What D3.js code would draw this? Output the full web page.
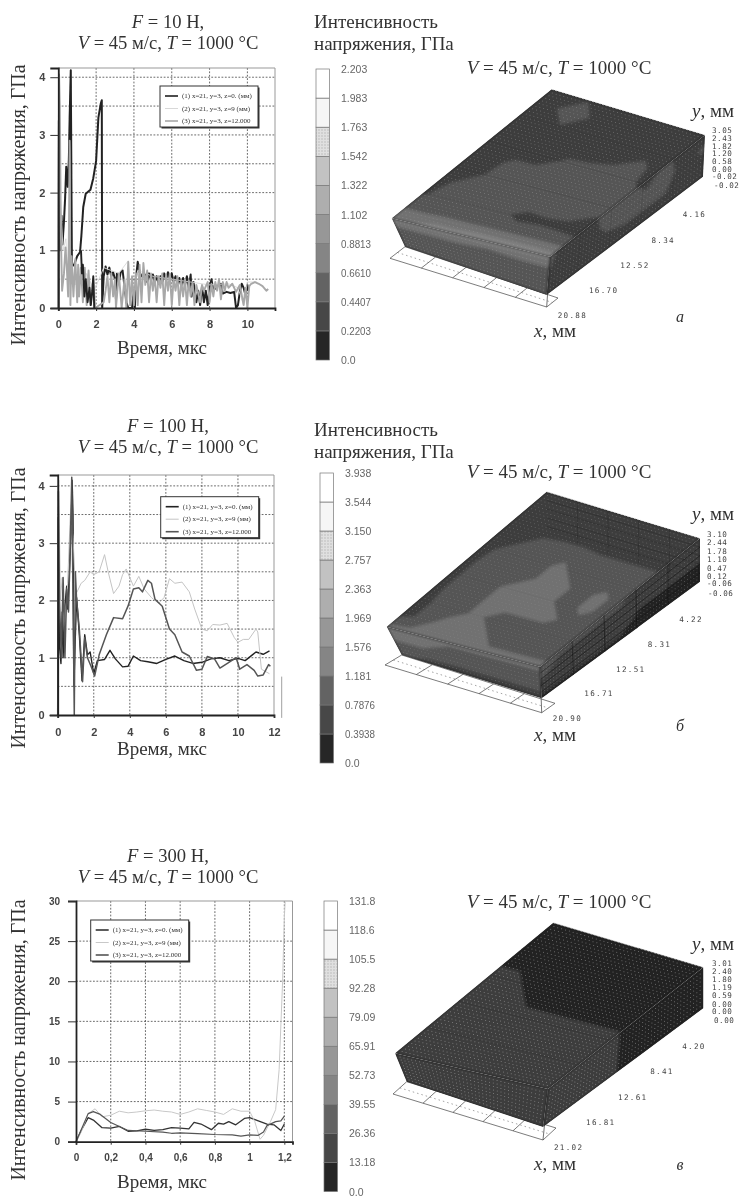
<!DOCTYPE html>
<html>
<head>
<meta charset="utf-8">
<script src="https://cdn.jsdelivr.net/npm/d3@7"></script>
<style>
  body { margin: 0; background: #fff; }
  text { font-family: "Liberation Serif", serif; fill: #333; }
  .tick text { font-family: "Liberation Sans", sans-serif; font-weight: bold; fill: #444; }
</style>
</head>
<body>
<div id="body"></div>
<script>
// line charts, [time, stress]
const a1Main = [[0,0],[.03,3.25],[.06,2.6],[.1,1.0],[.17,1.6],[.22,1.1],[.3,1.5],[.36,1.9],[.42,2.45],[.5,2.1],[.56,2.6],[.6,3.3],[.66,4.12],[.68,3],[.72,.72],[.85,.76],[1,.9],[1.15,.97],[1.22,1.25],[1.32,1.75],[1.45,1.98],[1.7,2.05],[1.85,2.25],[2,2.55],[2.12,3.3],[2.25,3.55],[2.3,3.6],[2.32,0],[2.4,.55],[2.5,.72],[2.6,.58],[2.7,.7],[2.8,.55],[2.9,.62],[3,.5],[3.05,.15],[3.1,.6],[3.2,.45],[3.3,.62],[3.4,.65],[3.6,.1],[3.7,0],[3.9,0],[4,.35],[4.05,0],[4.1,.5],[4.2,.8],[4.3,.62],[4.4,.55],[4.6,.58],[4.7,.45],[4.8,.6],[4.9,.48],[5,.58],[5.1,.45],[5.2,.55],[5.3,.42],[5.4,.55],[5.5,.45],[5.6,.6],[5.7,.48],[5.8,.62],[5.9,.5],[6,.6],[6.1,.45],[6.2,.55],[6.3,.42],[6.4,.52],[6.5,.38],[6.6,.52],[6.7,.4],[6.8,.55],[6.9,.35],[7,.58],[7.05,.2],[7.15,.45],[7.3,.1],[7.4,.3],[7.5,.05],[7.6,.38],[7.7,.1],[7.8,.3],[7.9,.05],[8,.35],[8.1,.5],[8.2,.3],[8.4,.38],[8.6,.42],[8.7,.25],[8.9,.28],[9.1,.26],[9.3,.28],[9.4,0],[9.5,.05],[9.6,.28],[9.7,.42],[9.8,.35],[9.9,.22],[10,.4],[10.05,.3]];
const a1Early = [[1.2,1],[1.25,.6],[1.3,.75],[1.38,.2],[1.45,.5],[1.55,.1],[1.65,.35],[1.72,.05],[1.8,.3],[1.85,.55],[1.9,0]];
const a2 = [[0,0],[.02,3.9],[.1,2],[.25,1],[.4,1.2],[.55,.4],[.7,.7],[.9,.4],[1.1,.7],[1.3,.3],[1.5,.6],[1.9,.3],[2.4,.7],[2.8,.65],[3.2,.6],[3.7,.82],[3.8,.1],[4.2,.65],[5,.55],[6,.5],[7,.45],[8,.4],[9,.42],[9.5,.35],[9.8,.05],[10,.45],[10.5,.45]];
const a3 = [[0,0],[.04,4.05],[.08,3.5],[.14,1.2],[.2,.3],[.3,.6],[.38,1.05],[.45,.7],[.52,.2],[.56,1.3],[.6,2.9],[.64,.05],[.7,.9],[.8,.2],[.9,.85],[1,.1],[1.05,.75],[1.1,.2],[1.2,.7],[1.3,.1],[1.4,.7],[1.5,.05],[1.6,.65],[1.7,.05],[1.85,.5],[1.95,0],[2.4,.1],[2.5,.3],[2.6,.55],[2.7,.1],[2.8,.6],[2.9,.2],[3,.5],[3.05,0],[3.2,.6],[3.35,0],[3.5,.5],[3.6,0],[3.7,.8],[3.8,.05],[3.9,.55],[4,.05],[4.1,.6],[4.2,.05],[4.3,.75],[4.4,.1],[4.5,.78],[4.6,.4],[4.7,.65],[4.8,.1],[4.9,.6],[5,.3],[5.1,.55],[5.2,.1],[5.3,.55],[5.4,.35],[5.5,.6],[5.6,.05],[5.7,.58],[5.8,.3],[5.9,.6],[6,.05],[6.1,.5],[6.2,.3],[6.3,.55],[6.4,.05],[6.5,.48],[6.6,.2],[6.7,.5],[6.8,.05],[6.9,.48],[7,.2],[7.1,.45],[7.2,.05],[7.3,.4],[7.5,.1],[7.6,.4],[7.7,.3],[7.9,.45],[8,.1],[8.1,.42],[8.2,.2],[8.3,.45],[8.4,.3],[8.5,.5],[8.6,.15],[8.7,.45],[8.8,.3],[8.9,.45],[9,.35],[9.2,.42],[9.4,.28],[9.6,.4],[9.8,.05],[9.9,.35],[10,0],[10.1,.38],[10.2,.42],[10.4,.45],[10.6,.42],[10.8,.38],[11,.3],[11.1,.33]];

const b1 = [[0,0],[.03,3.45],[.1,1.2],[.18,.9],[.25,1.8],[.3,1],[.4,1.9],[.5,2.25],[.55,1.85],[.65,2.5],[.75,3.3],[.8,4.1],[.85,3.5],[.88,1.5],[.9,.5],[.95,1.1],[1.05,2.05],[1.2,1.4],[1.35,.6],[1.5,1.4],[1.65,1.05],[1.8,1.1],[2,.72],[2.2,.95],[2.6,.97],[2.9,1.13],[3.2,.98],[3.6,.84],[3.9,.85],[4.2,1.03],[4.6,.95],[5,.93],[5.5,.9],[6,.97],[6.5,1.03],[7,.95],[7.5,.9],[8,.92],[8.5,.98],[9,1],[9.5,.95],[10,.99],[10.4,.95],[10.8,1.05],[11,1.1],[11.4,1.06],[11.75,1.12]];
const b2 = [[0,0],[.06,4.1],[.15,2],[.25,2.4],[.4,1.5],[.55,2.3],[.7,3.5],[.85,3.1],[1,2.1],[1.3,2.3],[1.5,2.35],[1.8,2.5],[2,2.45],[2.3,2.5],[2.6,2.8],[2.8,2.5],[3.1,2.12],[3.4,2.25],[3.6,2.45],[3.8,2.55],[4,2.4],[4.2,2.25],[4.5,2.42],[4.8,2.2],[5.2,2.05],[5.6,1.95],[5.9,2.05],[6.2,2.38],[6.5,2.3],[6.9,2.32],[7.3,2.15],[7.6,1.85],[8,1.5],[8.3,1.47],[8.6,1.58],[9,1.57],[9.4,1.6],[9.8,1.35],[10,1.27],[10.3,1.32],[10.6,1.32],[11,1.5],[11.1,1.45],[11.3,.8],[11.75,.72]];
const b3 = [[0,0],[.04,3.9],[.1,2],[.2,1],[.3,2.4],[.4,1],[.5,2.2],[.6,1.8],[.7,3],[.78,4.15],[.85,2],[.92,0],[.98,2.5],[1.05,2],[1.2,1.5],[1.38,.58],[1.5,1.35],[1.65,1],[1.85,.85],[2.05,.68],[2.3,1.05],[2.7,1.4],[3.1,1.7],[3.6,1.68],[3.9,1.9],[4.2,2.2],[4.5,2.22],[4.7,2.15],[5,2.35],[5.2,2.3],[5.4,2.02],[5.8,1.9],[6.2,1.5],[6.5,1.4],[6.9,1.1],[7.3,1.03],[7.7,.78],[8,.8],[8.3,1.02],[8.7,.98],[9,.82],[9.5,.92],[9.9,1],[10.1,.8],[10.5,.88],[10.9,.78],[11.1,.68],[11.4,.7],[11.7,.88],[11.8,.85]];

const c1 = [[0,0],[.03,1.4],[.07,3],[.1,2.7],[.15,1.75],[.2,1.7],[.25,1.9],[.3,1.3],[.35,1.35],[.4,1.55],[.45,1.4],[.5,1.5],[.55,1.75],[.6,1.7],[.65,1.6],[.68,2.4],[.72,2.2],[.78,1.5],[.82,2.3],[.85,2.2],[.88,2.5],[.92,2.1],[.97,2.9],[1,3],[1.05,2.6],[1.1,2.2],[1.14,2.1],[1.18,1.4],[1.2,2.2]];
const c2 = [[0,0],[.03,1.2],[.07,3.5],[.11,4.1],[.15,3.1],[.2,3.3],[.25,3.8],[.3,3.6],[.35,3.7],[.4,3.85],[.45,3.95],[.5,3.8],[.55,3.7],[.6,3.4],[.65,3.7],[.7,4.1],[.75,3.9],[.8,3.7],[.85,3.4],[.9,4.1],[.95,3.8],[1,3.8],[1.03,2.5],[1.06,.3],[1.08,.8],[1.12,2.5],[1.15,4],[1.17,9],[1.19,20],[1.2,28],[1.205,30]];
const c3 = [[0,0],[.03,1.5],[.07,3.5],[.1,3.75],[.14,3.4],[.2,2.4],[.25,1.9],[.3,1.4],[.4,1.3],[.5,1.2],[.55,1.05],[.6,1.1],[.7,1],[.8,.9],[.9,.85],[.95,.7],[1,.85],[1.05,.8],[1.08,1.2],[1.1,2],[1.15,2.5],[1.18,2.6],[1.2,3.2]];

const legendRows = ["(1) x=21, y=3, z=0. (мм)", "(2) x=21, y=3, z=9 (мм)", "(3) x=21, y=3, z=12.000"];

// colour bar labels, bottom to top
const barA = ["0.0","0.2203","0.4407","0.6610","0.8813","1.102","1.322","1.542","1.763","1.983","2.203"];
const barB = ["0.0","0.3938","0.7876","1.181","1.576","1.969","2.363","2.757","3.150","3.544","3.938"];
const barC = ["0.0","13.18","26.36","39.55","52.73","65.91","79.09","92.28","105.5","118.6","131.8"];
const barGrays = ["#262626","#474747","#636363","#858585","#979797","#aeaeae","#c2c2c2","#e0e0e0","#f6f6f6","#ffffff"];

// mm labels on the 3d boxes
const xTicksA = ["4.16","8.34","12.52","16.70","20.88"];
const xTicksB = ["4.22","8.31","12.51","16.71","20.90"];
const xTicksC = ["4.20","8.41","12.61","16.81","21.02"];
const yTicksA = ["3.05","2.43","1.82","1.20","0.58","0.00","-0.02"];
const yTicksB = ["3.10","2.44","1.78","1.10","0.47","0.12","-0.06"];
const yTicksC = ["3.01","2.40","1.80","1.19","0.59","0.00","0.00"];

// stress fields on the box faces, estimated from the shading (GPa)
const topA = [
  [.33,.33,.33,.33,.35,.55,.55,.40,.33,.60,1.0],
  [.33,.33,.33,.52,.60,.58,.56,.50,.38,.60,1.05],
  [.33,.33,.33,.38,.55,.56,.56,.52,.40,.60,1.05],
  [.33,.33,.33,.33,.50,.55,.56,.54,.36,.60,1.05],
  [.33,.33,.33,.33,.48,.55,.56,.55,.50,.60,1.05],
  [.33,.40,.33,.33,.33,.50,.55,.55,.55,.60,1.0],
  [.42,.60,.42,.33,.33,.50,.55,.55,.55,.60,1.0],
  [.33,.42,.33,.33,.33,.33,.33,.52,.55,.60,.9],
  [.33,.33,.33,.33,.33,.33,.33,.33,.40,.60,.9]];
const sideA = [
  [.33,.33,.50,.33,.55,.55,.33,.33,.50],
  [.50,.33,.55,.50,.50,.50,.33,.33,.45],
  [.33,.33,.45,.45,.45,.40,.33,.33,.35],
  [.33,.33,.33,.33,.33,.33,.33,.33,.33]];
const frontA = [
  [.95,.95,1.0,.95,.95,.95],
  [.62,.62,.50,.62,.62,.62],
  [.60,.60,.60,.50,.60,.60],
  [.50,.55,.55,.55,.55,.60]];
const topB = [
  [.6,.6,.6,.9,1.0,1.0,1.0,1.0,1.0,1.0,1.3],
  [.6,.6,.6,.9,1.0,1.3,1.3,1.0,1.0,1.0,1.3],
  [.6,.6,.6,.9,1.0,1.0,1.0,1.3,1.0,1.0,1.3],
  [.6,.6,.6,.9,1.0,1.3,1.3,1.3,1.0,1.0,1.3],
  [.6,.6,.6,1.0,1.3,1.3,1.3,1.3,1.0,1.3,1.3],
  [.6,.6,.6,1.0,1.0,1.0,1.3,1.3,1.3,1.3,1.3],
  [.6,.6,.6,.9,1.0,1.0,1.0,1.0,1.0,1.3,1.3],
  [.6,.6,.6,.6,.9,1.0,1.0,1.0,.9,.9,1.3],
  [.6,.6,.6,.6,.6,.6,.6,.6,.6,.6,1.3]];
const sideB = [
  [.6,.6,.6,.6,.9,.9,.9,.9,1.0],
  [.6,.6,.6,.6,.6,.6,.6,.6,.9],
  [.3,.3,.3,.3,.6,.6,.6,.6,.6],
  [.3,.3,.3,.3,.3,.3,.3,.3,.3]];
const frontB = [
  [1.3,1.3,1.3,1.3,1.3,1.6],
  [1.0,1.0,1.0,1.0,1.3,1.3],
  [.9,.9,.9,.9,1.0,1.0],
  [.6,.6,.6,.6,.6,.9]];
const topC = [
  [10,10,10,10,10,10,20,20,20,20,20],
  [10,10,10,10,10,10,20,20,20,20,20],
  [10,10,10,10,10,10,20,20,20,20,20],
  [10,10,10,10,10,10,20,20,20,20,20],
  [10,10,10,10,10,10,20,20,20,20,20],
  [10,10,10,10,10,10,20,20,20,20,20],
  [10,10,10,10,10,20,20,20,20,20,20],
  [10,10,10,10,20,20,20,20,20,20,20],
  [10,10,10,10,20,20,20,20,20,20,20]];
const sideC = [
  [10,10,10,10,10,20,20,20,20],
  [10,10,10,10,10,20,20,20,20],
  [10,10,10,10,10,20,20,20,20]];
const frontC = [
  [20,20,20,20,20,20],
  [20,20,20,20,20,20],
  [20,20,20,20,20,20]];

const W = 740, H = 1196;
const svg = d3.select("#body").append("svg").attr("width", W).attr("height", H);
const defs = svg.append("defs");

// the scan is soft, everything gets a slight blur
defs.append("filter").attr("id", "soft")
  .attr("filterUnits", "userSpaceOnUse")
  .attr("x", 0).attr("y", 0).attr("width", W).attr("height", H)
  .append("feGaussianBlur").attr("stdDeviation", 0.6);
// shading zones on the box melt into each other
defs.append("filter").attr("id", "melt")
  .attr("filterUnits", "userSpaceOnUse")
  .attr("x", 0).attr("y", 0).attr("width", W).attr("height", H)
  .append("feGaussianBlur").attr("stdDeviation", 1.6);
let dots = defs.append("pattern").attr("id", "dots")
  .attr("width", 3).attr("height", 3).attr("patternUnits", "userSpaceOnUse");
dots.append("rect").attr("width", 3).attr("height", 3).attr("fill", "#e0e0e0");
dots.append("circle").attr("cx", 1).attr("cy", 1).attr("r", .8).attr("fill", "#bbb");

const root = svg.append("g").attr("filter", "url(#soft)");

// italic latin symbols in a label
function rich(sel, str) {
  str.split(/\b(F|V|T|x|y)\b/).forEach(function (part, i) {
    sel.append("tspan").style("font-style", i % 2 ? "italic" : "normal").text(part);
  });
  return sel;
}

function label(x, y, str, size, anchor) {
  return rich(root.append("text").attr("x", x).attr("y", y)
    .attr("font-size", size).attr("text-anchor", anchor || "middle"), str);
}

function lineChart(o) {
  let x = d3.scaleLinear().domain(o.xDomain).range([o.left, o.right]);
  let y = d3.scaleLinear().domain(o.yDomain).range([o.bottom, o.top]);
  let g = root.append("g");

  // grid
  g.selectAll("line.gx").data(o.xGrid).enter().append("line")
    .attr("x1", d => x(d)).attr("x2", d => x(d)).attr("y1", o.top).attr("y2", o.bottom)
    .attr("stroke", "#444").attr("stroke-width", .8).attr("stroke-dasharray", "1.8,1.6");
  g.selectAll("line.gy").data(o.yGrid).enter().append("line")
    .attr("x1", o.left).attr("x2", o.right).attr("y1", d => y(d)).attr("y2", d => y(d))
    .attr("stroke", "#444").attr("stroke-width", .8).attr("stroke-dasharray", "1.8,1.6");

  // frame, top and right are grey
  g.append("path").attr("d", `M${o.left},${o.top}H${o.right}V${o.bottom}`)
    .attr("fill", "none").attr("stroke", "#999").attr("stroke-width", 1);

  let line = d3.line().x(d => x(d[0])).y(d => y(d[1]));
  o.series.forEach(function (s) {
    g.append("path").datum(s.values).attr("d", line).attr("fill", "none")
      .attr("stroke", s.color).attr("stroke-width", s.width).attr("stroke-linejoin", "round");
  });

  // axes
  let ax = g.append("g").attr("transform", `translate(0,${o.bottom})`)
    .call(d3.axisBottom(x).tickValues(o.xTicks).tickSize(3).tickPadding(o.xPad).tickFormat(o.xFormat));
  let ay = g.append("g").attr("transform", `translate(${o.left},0)`)
    .call(d3.axisLeft(y).tickValues(o.yTicks).tickSize(8).tickPadding(o.yPad).tickFormat(d3.format("d")));
  [ax, ay].forEach(function (a) {
    a.selectAll("text").attr("font-size", o.tickSize);
    a.selectAll("line").attr("stroke", "#333");
    a.select(".domain").attr("stroke", "#222").attr("stroke-width", 1.8);
  });

  // legend
  let lg = g.append("g").attr("transform", `translate(${o.legend[0]},${o.legend[1]})`);
  lg.append("rect").attr("x", 1.5).attr("y", 1.5).attr("width", 98).attr("height", 41).attr("fill", "#333");
  lg.append("rect").attr("width", 98).attr("height", 41).attr("fill", "#fff")
    .attr("stroke", "#333").attr("stroke-width", 1);
  let rowY = d3.scaleLinear().domain([0, 2]).range([10, 35]);
  legendRows.forEach(function (t, i) {
    lg.append("line").attr("x1", 5).attr("x2", 18).attr("y1", rowY(i)).attr("y2", rowY(i))
      .attr("stroke", o.series[i].color).attr("stroke-width", i == 1 ? 1 : 1.6);
    lg.append("text").attr("x", 22).attr("y", rowY(i) + 2).attr("font-size", 7).text(t);
  });

  // titles
  label(o.titleX, o.titleY, o.title[0], 18.6);
  label(o.titleX, o.titleY + 21, o.title[1], 18.6);
  label(o.xLabelX, o.xLabelY, "Время, мкс", 19);
  label(0, 0, "Интенсивность напряжения, ГПа", 19.9)
    .attr("x", null).attr("y", null)
    .attr("transform", `translate(${o.yLabelX},${o.yLabelY}) rotate(-90)`);
}

function colorBar(o) {
  let y = d3.scaleLinear().domain([0, 10]).range([o.bottom, o.top]);
  let g = root.append("g");
  barGrays.forEach(function (c, i) {
    g.append("rect").attr("x", o.x).attr("width", 13.5)
      .attr("y", y(i + 1)).attr("height", y(i) - y(i + 1))
      .attr("fill", i == 7 ? "url(#dots)" : c)
      .attr("stroke", "#777").attr("stroke-width", .7);
  });
  o.labels.forEach(function (t, i) {
    g.append("text").attr("x", o.x + 25).attr("y", y(i) + 4)
      .attr("font-size", 10.5).style("font-family", "Liberation Sans")
      .attr("textLength", t.length > 5 ? 30 : null)
      .attr("lengthAdjust", "spacingAndGlyphs")
      .style("fill", "#666").text(t);
  });
}

// corners: p00, p10, p01, p11
function bilinear(c, u, v) {
  return [0, 1].map(k =>
    (1 - u) * (1 - v) * c[0][k] + u * (1 - v) * c[1][k] + (1 - u) * v * c[2][k] + u * v * c[3][k]);
}

function dist(a, b) {
  return Math.hypot(a[0] - b[0], a[1] - b[1]);
}

let faceId = 0;

function face(g, corners, grid, thresholds, dotColor) {
  let n = grid[0].length, m = grid.length;
  let clamp = t => Math.max(0, Math.min(1, t));
  let path = d3.geoPath(d3.geoTransform({
    point: function (px, py) {
      let p = bilinear(corners, clamp((px - .5) / (n - 1)), clamp((py - .5) / (m - 1)));
      this.stream.point(p[0], p[1]);
    }
  }));
  let color = d3.scaleThreshold().domain(thresholds.slice(1)).range(barGrays);
  let cs = d3.contours().size([n, m]).thresholds(thresholds).smooth(true)(grid.flat());

  // outline in drawing order, the blur must not leak out of the face
  let id = "face" + (faceId++);
  let outline = d3.line()([corners[0], corners[1], corners[3], corners[2]]) + "Z";
  defs.append("clipPath").attr("id", id).append("path").attr("d", outline);
  let clipped = g.append("g").attr("clip-path", `url(#${id})`);
  clipped.append("path").attr("d", outline).attr("fill", d3.color(barGrays[0]).darker(.45));
  clipped.append("g").attr("filter", "url(#melt)")
    .selectAll(null).data(cs).enter().append("path").attr("d", path)
    .attr("fill", d => d3.color(color(d.value + 1e-6)).darker(.45))
    .attr("stroke", "none");

  // calculation mesh shows up as fine dots, about 4 px apart
  let nu = Math.round(dist(corners[0], corners[1]) / 4), nv = Math.round(dist(corners[0], corners[2]) / 4);
  d3.range(1, nu).forEach(function (i) {
    d3.range(1, nv).forEach(function (j) {
      let p = bilinear(corners, i / nu, j / nv);
      g.append("circle").attr("cx", p[0]).attr("cy", p[1]).attr("r", .5)
        .attr("fill", dotColor).attr("opacity", .6);
    });
  });
}

function box(o) {
  let c = o.c;
  let g = root.append("g");

  // white base grid
  let base = [c.L2, c.F4, c.F3, c.L3];
  g.append("path").attr("d", d3.line()(base) + "Z").attr("fill", "#fff")
    .attr("stroke", "#444").attr("stroke-width", .7);
  d3.range(1, 5).forEach(function (i) {
    let a = bilinear([c.L2, c.F4, c.L3, c.F3], i / 5, 0), b = bilinear([c.L2, c.F4, c.L3, c.F3], i / 5, 1);
    g.append("line").attr("x1", a[0]).attr("y1", a[1]).attr("x2", b[0]).attr("y2", b[1])
      .attr("stroke", "#444").attr("stroke-width", .7);
  });
  let m1 = bilinear([c.L2, c.F4, c.L3, c.F3], 0, .5), m2 = bilinear([c.L2, c.F4, c.L3, c.F3], 1, .5);
  g.append("line").attr("x1", m1[0]).attr("y1", m1[1]).attr("x2", m2[0]).attr("y2", m2[1])
    .attr("stroke", "#666").attr("stroke-width", .6).attr("stroke-dasharray", "1.5,3");

  let thr = o.labels.map(Number);
  face(g, [c.F, c.L, c.F2, c.L2], o.front, thr, o.dot);
  face(g, [c.R, c.F, c.R2, c.F2], o.side, thr, o.dot);
  face(g, [c.R, c.F, c.B, c.L], o.top, thr, o.dot);

  // construction lines drawn over the faces
  d3.range(1, 5).forEach(function (i) {
    let a = bilinear([c.R, c.F, c.B, c.L], i / 5, 0), b = bilinear([c.R, c.F, c.B, c.L], i / 5, 1);
    let s = bilinear([c.R, c.F, c.R2, c.F2], i / 5, 1);
    g.append("line").attr("x1", a[0]).attr("y1", a[1]).attr("x2", b[0]).attr("y2", b[1])
      .attr("stroke", "#222").attr("stroke-width", .5).attr("opacity", o.meshOpacity);
    g.append("line").attr("x1", a[0]).attr("y1", a[1]).attr("x2", s[0]).attr("y2", s[1])
      .attr("stroke", "#111").attr("stroke-width", .7).attr("opacity", o.sideOpacity);
    let e = bilinear([c.R, c.F, c.R2, c.F2], 0, i / 5), f = bilinear([c.R, c.F, c.R2, c.F2], 1, i / 5);
    g.append("line").attr("x1", e[0]).attr("y1", e[1]).attr("x2", f[0]).attr("y2", f[1])
      .attr("stroke", "#111").attr("stroke-width", .7).attr("opacity", o.sideOpacity);
  });

  // back wall grid, only shows on the 100 N box
  if (o.wall) {
    let h = c.R2[1] - c.R[1];
    let wall = [c.B, c.R, [c.B[0], c.B[1] + h], [c.R[0], c.R[1] + h]];
    d3.range(1, 5).forEach(function (i) {
      let a = bilinear(wall, i / 5, 0), b = bilinear(wall, i / 5, 1);
      let e = bilinear(wall, 0, i / 5), f = bilinear(wall, 1, i / 5);
      [[a, b], [e, f]].forEach(function (l) {
        g.append("line").attr("x1", l[0][0]).attr("y1", l[0][1]).attr("x2", l[1][0]).attr("y2", l[1][1])
          .attr("stroke", "#111").attr("stroke-width", .6).attr("opacity", o.wall);
      });
    });
  }

  g.append("path").attr("d", d3.line()([c.B, c.R])).attr("stroke", "#ddd")
    .attr("stroke-width", .8).attr("stroke-dasharray", "2,1.5").attr("fill", "none");
  g.append("line").attr("x1", c.F[0]).attr("y1", c.F[1]).attr("x2", c.F3[0]).attr("y2", c.F3[1])
    .attr("stroke", "#333").attr("stroke-width", .7);

  // mm scales
  let tickText = function (x, y, t, spacing) {
    g.append("text").attr("x", x).attr("y", y).attr("font-size", 7.6)
      .attr("letter-spacing", spacing).style("font-family", "DejaVu Sans Mono").style("fill", "#444").text(t);
  };
  let xs = d3.scaleLinear().domain([0, 5]).range([c.R2, c.F2]);
  o.xTicks.forEach(function (t, i) {
    let p = xs(i + 1);
    tickText(p[0] + 11, p[1] + 17 + 1.5 * i, t, 1.3);
  });
  let ys = d3.scaleLinear().domain([0, 5]).range(o.yRange);
  o.yTicks.forEach(function (t, i) {
    if (i < 6) tickText(o.yX, ys(i), t, .5);
    if (i == 5) tickText(o.yX, ys(i) + 7, o.yTicks[6], .5);
    if (i == 6) tickText(o.floorX, o.yFloor, t, .5);
  });

  label(559, o.titleY, "V = 45 м/с, T = 1000 °C", 19);
  label(713, o.yLab, "y, мм", 19);
  label(555, o.xLab, "x, мм", 19);
  label(680, o.xLab - o.letterUp, o.letter, 16).selectAll("tspan").style("font-style", "italic");
}

// left column
lineChart({
  left: 58.3, right: 275, top: 68, bottom: 308,
  xDomain: [0, 11.46], yDomain: [0, 4.16],
  xGrid: [2, 4, 6, 8, 10], yGrid: [.5, 1, 1.5, 2, 2.5, 3, 3.5, 4],
  xTicks: [0, 2, 4, 6, 8, 10], yTicks: [0, 1, 2, 3, 4],
  xFormat: d3.format("d"), xPad: 9, yPad: 5, tickSize: 11,
  series: [
    { values: a1Main, color: "#222", width: 2 },
    { values: a2, color: "#d8d8d8", width: .9 },
    { values: a3, color: "#a8a8a8", width: 1.9 },
    { values: a1Early, color: "#222", width: 1.9 }],
  legend: [160, 86],
  title: ["F = 10 Н,", "V = 45 м/с, T = 1000 °C"], titleX: 168, titleY: 28,
  xLabelX: 162, xLabelY: 354, yLabelX: 25, yLabelY: 205
});
lineChart({
  left: 57.7, right: 274, top: 475, bottom: 715,
  xDomain: [0, 12], yDomain: [0, 4.19],
  xGrid: [2, 4, 6, 8, 10], yGrid: [.5, 1, 1.5, 2, 2.5, 3, 3.5, 4],
  xTicks: [0, 2, 4, 6, 8, 10, 12], yTicks: [0, 1, 2, 3, 4],
  xFormat: d3.format("d"), xPad: 10, yPad: 5, tickSize: 11,
  series: [
    { values: b1, color: "#222", width: 1.4 },
    { values: b2, color: "#c4c4c4", width: 1 },
    { values: b3, color: "#555", width: 1.5 }],
  legend: [160.7, 496.7],
  title: ["F = 100 Н,", "V = 45 м/с, T = 1000 °C"], titleX: 168, titleY: 432,
  xLabelX: 162, xLabelY: 755, yLabelX: 25, yLabelY: 608
});
// stray rule next to the 100 N chart
let strayY = d3.scaleLinear().domain([0, 4.19]).range([715, 475]);
root.append("line").attr("x1", 281.7).attr("x2", 281.7).attr("y1", strayY(.67)).attr("y2", strayY(-.05))
  .attr("stroke", "#888").attr("stroke-width", .8);
lineChart({
  left: 76, right: 292.5, top: 901, bottom: 1141.7,
  xDomain: [0, 1.247], yDomain: [0, 30],
  xGrid: [.2, .4, .6, .8, 1, 1.2], yGrid: [5, 10, 15, 20, 25],
  xTicks: [0, .2, .4, .6, .8, 1, 1.2], yTicks: [0, 5, 10, 15, 20, 25, 30],
  xFormat: d => d == 1 || d == 0 ? d : String(d).replace(".", ","), xPad: 9, yPad: 8, tickSize: 10,
  series: [
    { values: c1, color: "#333", width: 1.3 },
    { values: c2, color: "#c8c8c8", width: 1 },
    { values: c3, color: "#555", width: 1.2 }],
  legend: [90.7, 920],
  title: ["F = 300 Н,", "V = 45 м/с, T = 1000 °C"], titleX: 168, titleY: 862,
  xLabelX: 162, xLabelY: 1188, yLabelX: 25, yLabelY: 1040
});

// colour bars
label(314, 28, "Интенсивность", 19, "start");
label(314, 50, "напряжения, ГПа", 19, "start");
label(314, 436, "Интенсивность", 19, "start");
label(314, 458, "напряжения, ГПа", 19, "start");
colorBar({ x: 316, top: 69, bottom: 360, labels: barA });
colorBar({ x: 320, top: 473, bottom: 763, labels: barB });
colorBar({ x: 324, top: 901, bottom: 1191.5, labels: barC });

// 3d boxes
box({
  c: { B: [551.7, 89.3], R: [705, 135], L: [391.7, 218.3], F: [550, 256.7], F2: [546.7, 295], L2: [405, 246.7], R2: [703, 176.7], L3: [390, 258.3], F3: [546.7, 307], F4: [558, 298] },
  top: topA, side: sideA, front: frontA, labels: barA, dot: "#999", meshOpacity: .25, sideOpacity: .12,
  xTicks: xTicksA, yTicks: yTicksA, yRange: [133, 171.75], yX: 712, yFloor: 188, floorX: 714,
  titleY: 74, yLab: 117, xLab: 337, letter: "а", letterUp: 15
});
box({
  c: { B: [546.7, 491.7], R: [700, 538.3], L: [386.7, 626.7], F: [540, 666.7], F2: [541.7, 698.3], L2: [401.7, 655], R2: [700, 581.7], L3: [385, 665], F3: [541.7, 712.7], F4: [555, 703.3] },
  top: topB, side: sideB, front: frontB, labels: barB, dot: "#888", meshOpacity: .1, sideOpacity: .7, wall: .35,
  xTicks: xTicksB, yTicks: yTicksB, yRange: [536.5, 579], yX: 707, yFloor: 596, floorX: 708,
  titleY: 478, yLab: 520, xLab: 741, letter: "б", letterUp: 10
});
box({
  c: { B: [553.3, 922.7], R: [703.3, 967.3], L: [395, 1053.3], F: [548, 1089], F2: [543, 1127], L2: [406.7, 1081.7], R2: [703.3, 1008.3], L3: [393, 1094], F3: [543, 1140], F4: [556, 1128] },
  top: topC, side: sideC, front: frontC, labels: barC, dot: "#bbb", meshOpacity: .4, sideOpacity: 0,
  xTicks: xTicksC, yTicks: yTicksC, yRange: [965.5, 1006.5], yX: 712, yFloor: 1022.5, floorX: 714,
  titleY: 908, yLab: 950, xLab: 1170, letter: "в", letterUp: 0
});
</script>
</body>
</html>
